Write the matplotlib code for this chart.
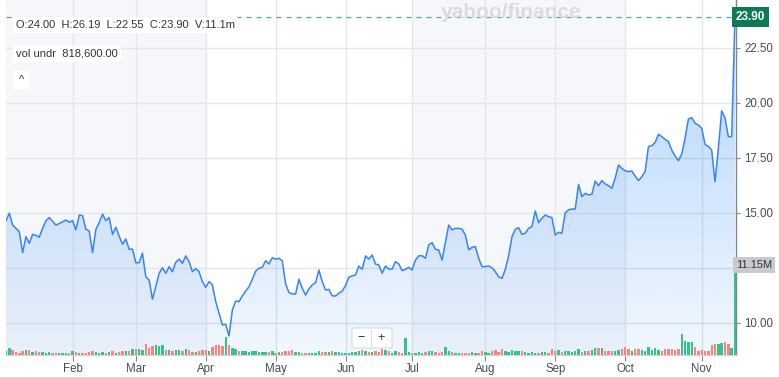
import numpy as np
import pandas as pd
import matplotlib
matplotlib.use("Agg")
import matplotlib.pyplot as plt
from matplotlib import transforms as mtransforms
from matplotlib.colors import to_rgb
from matplotlib.patches import FancyBboxPatch

# ---------------- data ----------------
holidays = ["2025-01-09", "2025-01-20", "2025-02-17", "2025-04-18",
            "2025-05-26", "2025-06-19", "2025-07-04", "2025-09-01"]
dates = pd.bdate_range("2025-01-02", "2025-11-17", freq="C", holidays=holidays)

close = [
    14.65, 14.99, 14.45, 14.30, 14.15, 13.20, 13.92, 13.62, 14.03, 13.98,
    13.90, 14.30, 14.65, 14.79, 14.62, 14.45, 14.52, 14.60, 14.68, 14.58,
    14.65, 14.23, 14.90, 14.88, 14.26, 14.18, 13.20, 14.26, 14.56, 14.95,
    14.65, 14.79, 14.03, 14.35, 13.95, 13.58, 13.82, 13.35, 13.36, 12.74,
    12.74, 13.17, 12.10, 11.95, 11.08, 11.65, 12.26, 12.51, 12.26, 12.56,
    12.33, 12.76, 12.90, 12.71, 13.05, 12.79, 12.33, 12.48, 12.33, 11.88,
    11.62, 11.88, 11.73, 10.97, 10.44, 9.91, 9.94, 9.41, 10.59, 11.00,
    10.97, 11.23, 11.45, 11.65, 11.99, 12.36, 12.49, 12.53, 12.83, 12.68,
    12.97, 12.90, 12.94, 12.83, 11.78, 11.38, 11.32, 11.32, 11.99, 11.58,
    11.27, 11.55, 11.73, 11.83, 12.41, 11.88, 11.50, 11.53, 11.23, 11.23,
    11.35, 11.45, 11.70, 12.08, 12.14, 12.18, 12.59, 12.44, 13.05, 12.90,
    13.09, 12.67, 12.64, 12.26, 12.59, 12.45, 12.45, 12.79, 12.68, 12.38,
    12.44, 12.53, 12.41, 12.86, 13.05, 13.06, 12.94, 13.55, 13.65, 13.35,
    13.32, 12.86, 13.65, 14.45, 14.23, 14.30, 14.30, 14.26, 14.00, 13.32,
    13.44, 13.47, 12.94, 12.56, 12.56, 12.59, 12.51, 12.33, 12.10, 12.03,
    12.44, 13.05, 13.92, 14.26, 14.33, 14.03, 14.08, 14.30, 14.38, 15.09,
    14.56, 14.76, 14.91, 14.83, 14.79, 14.00, 14.12, 14.08, 15.01, 15.14,
    15.18, 15.18, 16.30, 15.74, 15.89, 15.82, 15.85, 16.45, 16.24, 16.47,
    16.32, 16.24, 16.12, 16.58, 17.18, 17.03, 16.92, 16.88, 16.91, 16.68,
    16.47, 16.65, 16.88, 18.02, 18.06, 18.20, 18.58, 18.47, 18.35, 18.24,
    17.86, 17.59, 17.38, 17.68, 18.40, 19.27, 19.33, 19.08, 19.00, 18.85,
    18.12, 18.02, 17.86, 16.42, 17.94, 19.64, 19.33, 18.47, 18.47, 23.90,
]

volume_m = [
    0.45, 0.85, 0.65, 0.35, 0.30, 0.45, 0.65, 0.60, 0.35, 0.45,
    0.40, 0.35, 0.30, 0.35, 0.30, 0.25, 0.30, 0.20, 0.25, 0.20,
    0.50, 0.35, 0.30, 0.25, 0.30, 0.35, 0.50, 0.40, 0.30, 0.35,
    0.30, 0.35, 0.45, 0.30, 0.35, 0.50, 0.55, 0.45, 0.75, 0.70,
    0.80, 0.65, 1.35, 0.85, 1.10, 1.20, 1.10, 1.20, 0.60, 0.60,
    0.55, 0.60, 0.65, 0.50, 0.70, 0.65, 0.40, 0.35, 0.50, 0.60,
    0.60, 0.45, 1.00, 1.20, 1.25, 1.10, 2.20, 1.30, 0.90, 0.70,
    0.55, 0.45, 0.50, 0.40, 0.55, 0.45, 0.40, 0.35, 0.40, 0.35,
    0.45, 0.30, 0.35, 0.40, 0.45, 0.55, 0.60, 0.40, 0.35, 0.30,
    0.30, 0.25, 0.30, 0.25, 0.45, 0.40, 0.35, 0.40, 0.45, 0.35,
    0.40, 0.30, 0.25, 0.30, 0.35, 0.40, 0.50, 0.65, 0.55, 0.35,
    0.40, 0.50, 0.35, 0.75, 0.60, 0.45, 0.30, 0.50, 0.35, 0.30,
    2.10, 0.35, 0.30, 0.30, 0.35, 0.30, 0.40, 0.50, 0.45, 0.35,
    0.30, 0.40, 0.95, 0.45, 0.40, 0.30, 0.25, 0.30, 0.25, 0.30,
    0.35, 0.30, 0.25, 0.50, 0.35, 0.30, 0.45, 0.65, 0.40, 0.80,
    0.45, 0.40, 0.65, 0.55, 0.50, 0.45, 0.40, 0.30, 0.35, 0.25,
    0.30, 0.40, 0.35, 0.30, 0.80, 0.45, 0.65, 0.40, 0.55, 0.50,
    0.40, 0.45, 0.70, 0.40, 0.45, 0.55, 0.65, 0.85, 0.90, 0.85,
    0.55, 0.50, 0.50, 0.55, 0.60, 0.70, 1.05, 0.75, 0.55, 0.75,
    0.80, 0.60, 0.55, 0.95, 0.60, 0.85, 0.60, 0.55, 0.75, 0.70,
    0.80, 0.65, 0.70, 2.65, 1.70, 1.60, 1.65, 0.95, 0.45, 0.65,
    0.50, 0.45, 1.20, 1.35, 1.40, 1.50, 1.60, 1.35, 0.90, 11.15,
]

price_ticks = [10.0, 12.5, 15.0, 17.5, 20.0, 22.5]
ohlcv_text = "O:24.00  H:26.19  L:22.55  C:23.90  V:11.1m"
vol_undr_text = "vol undr  818,600.00"
last_price_label = "23.90"
last_volume_label = "11.15M"
watermark = "yahoo/finance"

assert len(dates) == len(close) == len(volume_m)

# ---------------- figure ----------------
W, H = 779, 377
fig = plt.figure(figsize=(W / 100, H / 100), dpi=100)
fig.patch.set_facecolor("white")
plt.rcParams["font.family"] = ["Liberation Sans", "DejaVu Sans"]

ax_left_px, ax_right_px, ax_top_px, ax_bot_px = 6, 736, 0, 355
rect = [ax_left_px / W, (H - ax_bot_px) / H,
        (ax_right_px - ax_left_px) / W, (ax_bot_px - ax_top_px) / H]
ax = fig.add_axes(rect)

x = np.arange(len(close))
close_arr = np.array(close)
xmin, xmax = 0, len(close) - 0.7
ymin, ymax = 8.545, 24.68

# month starts
months = dates.to_period("M")
month_start_idx = [i for i in range(1, len(dates)) if months[i] != months[i - 1]]
month_names = [dates[i].strftime("%b") for i in month_start_idx]

# quarter shading bands (Jan-Mar, Jul-Sep)
band_color = "#f5f7fa"
apr_i = month_start_idx[month_names.index("Apr")]
jul_i = month_start_idx[month_names.index("Jul")]
oct_i = month_start_idx[month_names.index("Oct")]
ax.axvspan(xmin, apr_i, color=band_color, zorder=0, lw=0)
ax.axvspan(jul_i, oct_i, color=band_color, zorder=0, lw=0)

# grid
grid_c = "#e3e6ea"
for i in month_start_idx:
    ax.axvline(i, color=grid_c, lw=1.0, zorder=1)
for p in price_ticks:
    ax.axhline(p, color=grid_c, lw=1.0, zorder=1)

# gradient fill under line
line_c = "#3884f4"
fill_c = "#3f93f6"
grad = np.zeros((256, 1, 4))
grad[..., :3] = to_rgb(fill_c)
grad[:, 0, 3] = np.linspace(0.07, 0.42, 256)
poly = ax.fill_between(x, close_arr, ymin, facecolor="none", edgecolor="none")
im = ax.imshow(grad, extent=[x[0], x[-1], ymin, ymax], origin="lower",
               aspect="auto", zorder=2, interpolation="bilinear")
im.set_clip_path(poly.get_paths()[0], transform=ax.transData)

ax.plot(x, close_arr, color=line_c, lw=1.1, zorder=4, solid_joinstyle="round")

# last price dashed line
ax.axhline(close[-1], color="#5aa596", lw=0.9, ls=(0, (4, 4)), zorder=3)

ax.set_xlim(xmin, xmax)
ax.set_ylim(ymin, ymax)

# axes styling
for s in ["top", "left"]:
    ax.spines[s].set_visible(False)
ax.spines["right"].set_color("#80868d")
ax.spines["right"].set_linewidth(1.0)
ax.spines["bottom"].set_color("#d3d7dc")
ax.spines["bottom"].set_linewidth(1.0)

ax.yaxis.tick_right()
ax.set_yticks(price_ticks)
ax.set_yticklabels(["" if abs(p - 12.5) < 1e-9 else f"{p:.2f}" for p in price_ticks])
ax.tick_params(axis="y", length=3, width=0.8, color="#80868d", pad=3,
               labelsize=8.3, labelcolor="#454c54")
ax.set_xticks(month_start_idx)
ax.set_xticklabels(month_names)
ax.tick_params(axis="x", length=4, width=0.8, color="#80868d", pad=2,
               labelsize=8.3, labelcolor="#454c54")

# ---------------- volume ----------------
ax_v = fig.add_axes(rect, sharex=ax, zorder=3)
ax_v.patch.set_alpha(0)
ax_v.axis("off")
up_c, dn_c = "#33c48d", "#f6857c"
colors = [up_c] + [up_c if close[i] >= close[i - 1] else dn_c for i in range(1, len(close))]
ax_v.bar(x, volume_m, width=0.72, color=colors, linewidth=0)
ax_v.set_ylim(0, 44.0)
ax_v.set_xlim(xmin, xmax)

# ---------------- badges ----------------
trans_p = mtransforms.blended_transform_factory(ax.transAxes, ax.transData)
ax.text(1.0, close[-1], last_price_label, transform=trans_p, ha="left", va="center",
        fontsize=8.5, fontweight="bold", color="white", zorder=10, clip_on=False,
        bbox=dict(boxstyle="square,pad=0.32", fc="#0c7a52", ec="none"))
trans_v = mtransforms.blended_transform_factory(ax_v.transAxes, ax_v.transData)
ax_v.text(1.0, volume_m[-1], last_volume_label, transform=trans_v, ha="left",
          va="center", fontsize=8.0, color="#30363c", zorder=10, clip_on=False,
          bbox=dict(boxstyle="square,pad=0.3", fc="#c8cacd", ec="none"))

# ---------------- overlays ----------------
def fx(px):
    return px / W


def fy(py):
    return 1 - py / H


fig.text(fx(511), fy(12), watermark, ha="center", va="center", fontsize=15,
         fontweight="bold", color="#d9dce0")

fig.text(fx(16), fy(25), ohlcv_text, ha="left", va="center", fontsize=8.0,
         color="#2f353b",
         bbox=dict(boxstyle="round,pad=0.3,rounding_size=0.25", fc="white", ec="none"))
fig.text(fx(16), fy(54), vol_undr_text, ha="left", va="center", fontsize=8.0,
         color="#2f353b",
         bbox=dict(boxstyle="round,pad=0.3,rounding_size=0.25", fc="white", ec="none"))
fig.patches.append(FancyBboxPatch((fx(13), fy(89)), fx(17), 18 / H,
                                  boxstyle="round,pad=0,rounding_size=0.004",
                                  transform=fig.transFigure, fc="white", ec="none",
                                  zorder=5))
fig.text(fx(21.5), fy(80), "^", ha="center", va="center", fontsize=8,
         color="#2f353b", zorder=6)

# zoom buttons
fig.patches.append(FancyBboxPatch((fx(352), fy(348)), fx(40), 20 / H,
                                  boxstyle="round,pad=0,rounding_size=0.004",
                                  transform=fig.transFigure, fc="white",
                                  ec="#d9dce0", lw=0.8, zorder=5))
fig.lines.append(plt.Line2D([fx(371), fx(371)], [fy(346), fy(330)],
                            transform=fig.transFigure, color="#d9dce0", lw=0.8,
                            zorder=6))
fig.text(fx(361), fy(338), "\u2212", ha="center", va="center", fontsize=9,
         color="#30363c", zorder=7)
fig.text(fx(381), fy(338), "+", ha="center", va="center", fontsize=9,
         color="#30363c", zorder=7)

fig.savefig("out.png", dpi=100)
